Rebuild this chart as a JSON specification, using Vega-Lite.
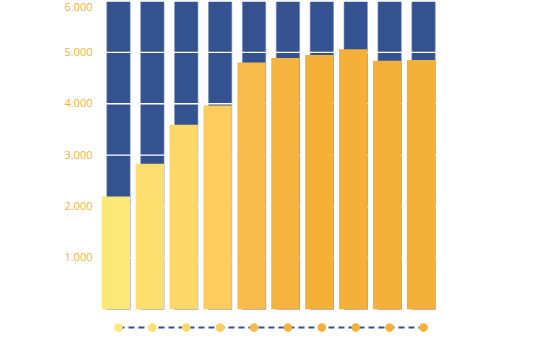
{
  "$schema": "https://vega.github.io/schema/vega-lite/v6.json",
  "width": 342,
  "height": 334,
  "autosize": "none",
  "padding": {"left": 100, "top": 1, "right": 0, "bottom": 0},
  "background": "white",
  "config": {"view": {"stroke": null}},
  "data": {
    "values": [
      {"cat": 1, "value": 2195, "max": 6000},
      {"cat": 2, "value": 2831, "max": 6000},
      {"cat": 3, "value": 3590, "max": 6000},
      {"cat": 4, "value": 3965, "max": 6000},
      {"cat": 5, "value": 4802, "max": 6000},
      {"cat": 6, "value": 4893, "max": 6000},
      {"cat": 7, "value": 4951, "max": 6000},
      {"cat": 8, "value": 5062, "max": 6000},
      {"cat": 9, "value": 4835, "max": 6000},
      {"cat": 10, "value": 4854, "max": 6000}
    ]
  },
  "layer": [
    {
      "mark": {"type": "bar", "color": "#34528F", "width": 23.4, "stroke": "#7d92c0", "strokeWidth": 0.6},
      "encoding": {
        "x": {
          "field": "cat",
          "type": "ordinal",
          "axis": null,
          "scale": {"paddingInner": 0.31, "paddingOuter": 0.2}
        },
        "y": {
          "field": "max",
          "type": "quantitative",
          "scale": {"domain": [-500, 6000], "nice": false},
          "axis": {
            "values": [1000, 2000, 3000, 4000, 5000, 6000],
            "labelExpr": "replace(format(datum.value, ','), ',', '.')",
            "labelColor": "#F5B03A",
            "labelFont": "Open Sans",
            "labelFontSize": 11,
            "ticks": false,
            "tickSize": 0,
            "domain": false,
            "grid": false,
            "labelPadding": 8,
            "labelFlush": true,
            "title": null
          }
        }
      }
    },
    {
      "data": {"values": [{"g": 1000}, {"g": 2000}, {"g": 3000}, {"g": 4000}, {"g": 5000}, {"g": 6000}]},
      "mark": {"type": "rule", "color": "white", "strokeWidth": 1.3},
      "encoding": {"y": {"field": "g", "type": "quantitative"}}
    },
    {
      "mark": {"type": "bar", "width": 28.4, "xOffset": -2.5},
      "encoding": {
        "x": {"field": "cat", "type": "ordinal", "axis": null},
        "y": {"field": "value", "type": "quantitative"},
        "color": {
          "field": "cat",
          "type": "ordinal",
          "legend": null,
          "scale": {
            "domain": [1, 2, 3, 4, 5, 6, 7, 8, 9, 10],
            "range": ["#FCE877", "#FCDF6E", "#FDD767", "#FDCC5E", "#F8BB4B", "#F6B23E", "#F5B03A", "#F5B03A", "#F5B03A", "#F5B03A"]
          }
        }
      }
    },
    {
      "mark": {"type": "line", "color": "#34528F", "strokeWidth": 2, "strokeDash": [6, 4]},
      "encoding": {
        "x": {"field": "cat", "type": "ordinal", "axis": null},
        "y": {"datum": -355}
      }
    },
    {
      "mark": {"type": "circle", "size": 75, "opacity": 1},
      "encoding": {
        "x": {"field": "cat", "type": "ordinal", "axis": null},
        "y": {"datum": -355},
        "color": {"field": "cat", "type": "ordinal", "legend": null}
      }
    }
  ]
}
